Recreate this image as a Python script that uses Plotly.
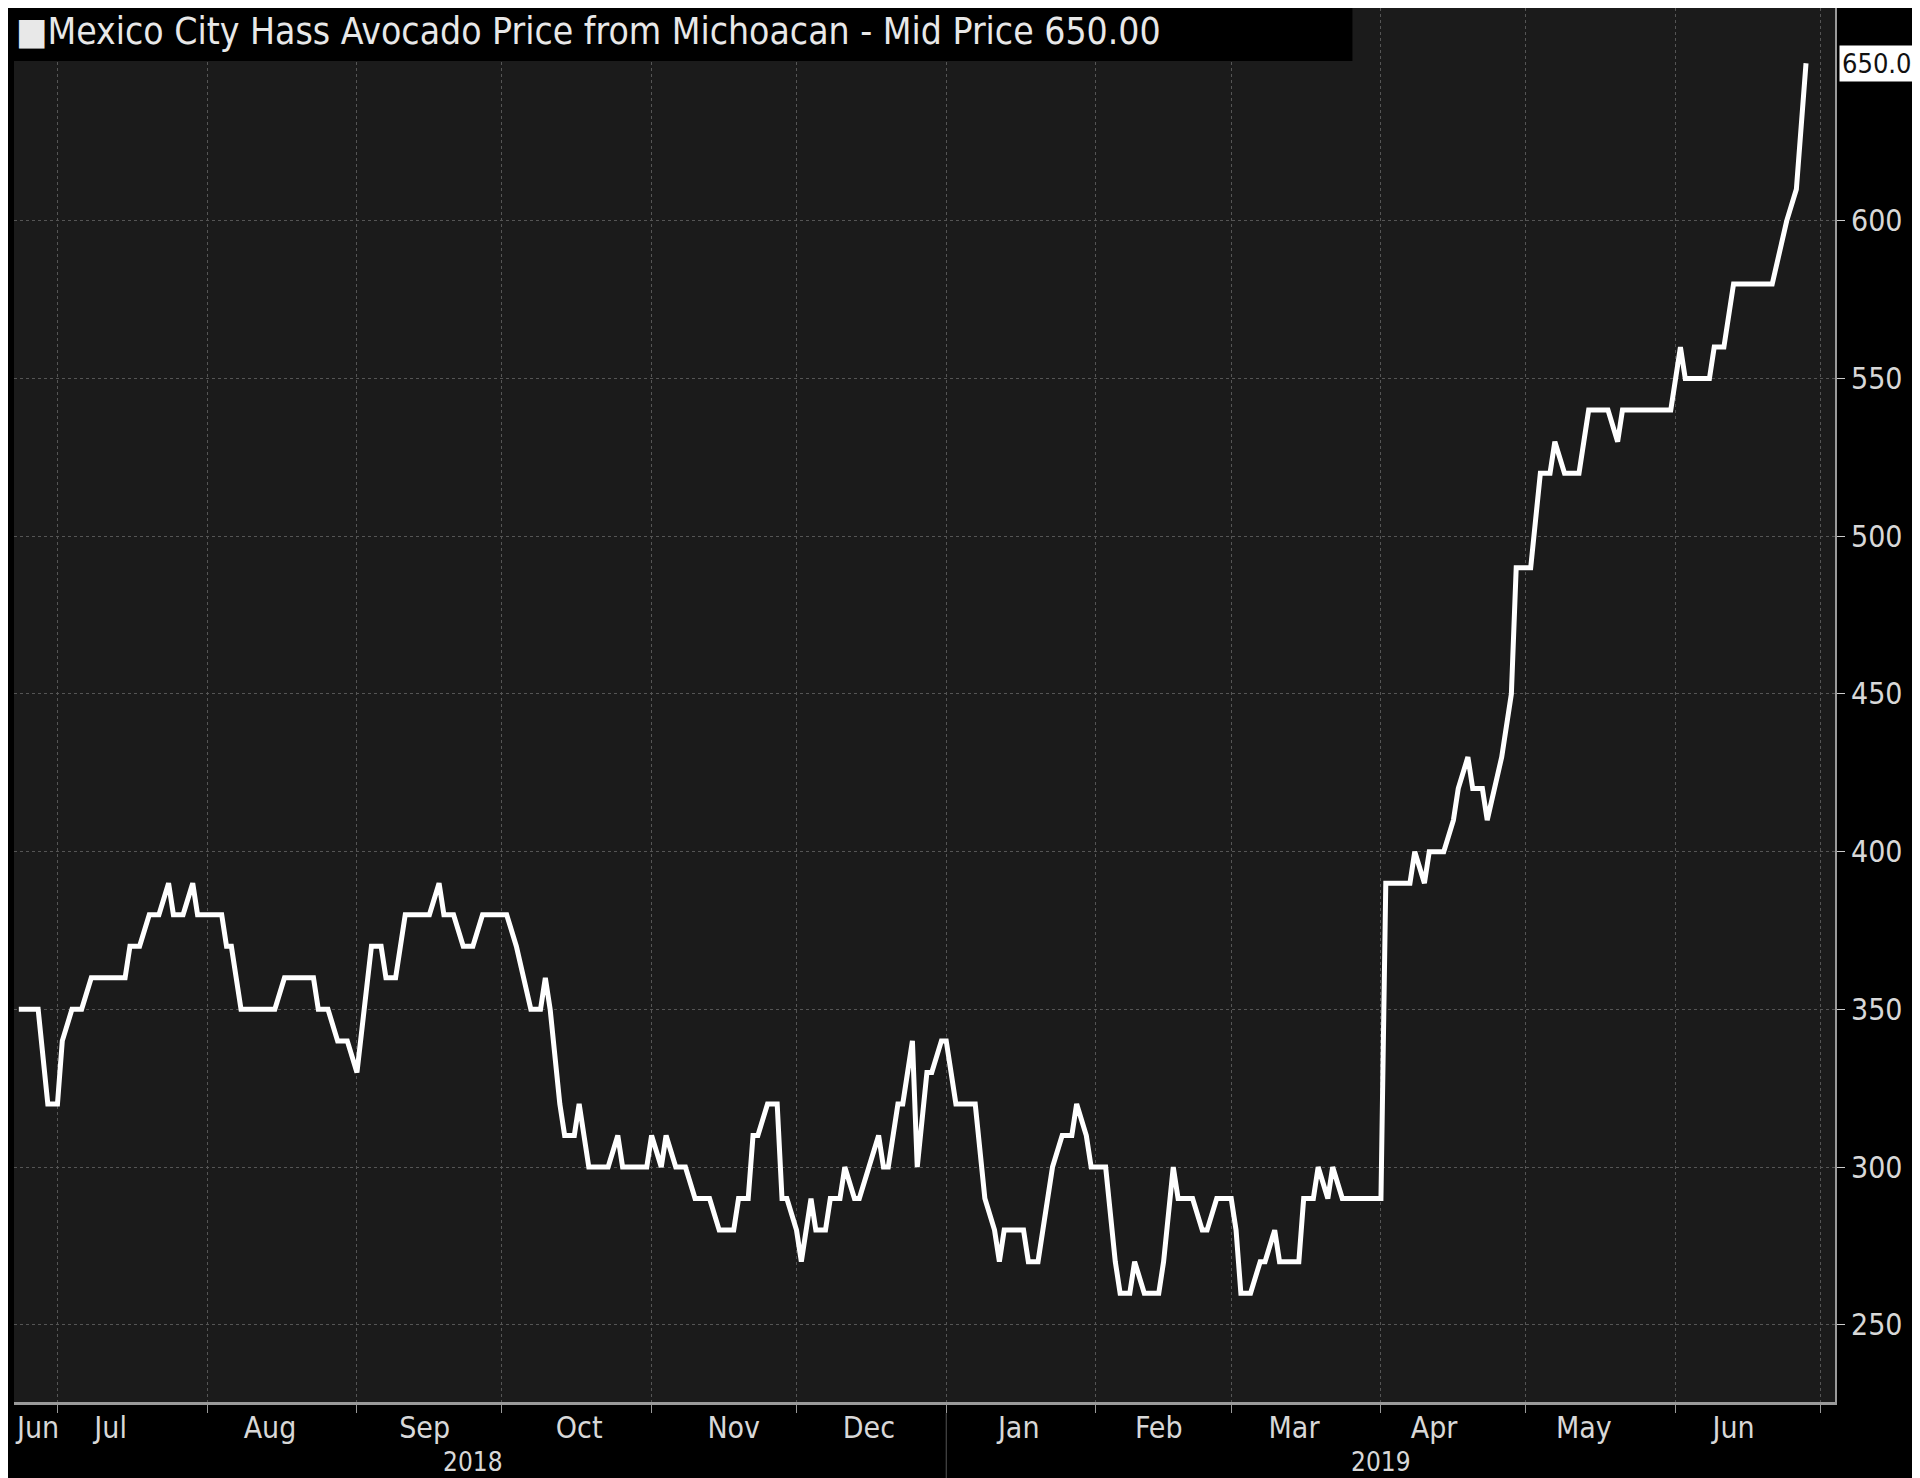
import plotly.graph_objects as go
import pandas as pd

start_date = "2018-06-23"
day_offsets = [0,4,6,8,9,11,13,15,22,23,25,27,29,31,32,34,36,37,42,43,44,46,53,55,61,62,64,66,68,70,73,75,76,78,80,85,87,88,90,92,94,96,101,103,106,108,109,110,112,113,115,116,118,122,124,125,130,131,133,134,136,138,140,143,145,148,149,151,152,153,155,157,158,159,161,162,164,165,167,168,170,171,173,174,176,178,179,180,182,183,185,186,188,189,191,192,194,198,200,202,203,204,208,209,211,213,214,216,218,219,221,222,225,227,228,230,231,233,236,237,239,240,243,245,246,248,251,252,253,255,257,258,260,261,265,266,268,269,271,272,274,282,283,288,289,291,292,295,297,298,300,301,303,304,307,309,310,313,315,317,318,320,323,325,329,331,332,342,344,345,350,351,353,355,363,366,368,370]
prices = [350,350,320,320,340,350,350,360,360,370,370,380,380,390,380,380,390,380,380,370,370,350,350,360,360,350,350,340,340,330,370,370,360,360,380,380,390,380,380,370,370,380,380,370,350,350,360,350,320,310,310,320,300,300,310,300,300,310,300,310,300,300,290,290,280,280,290,290,310,310,320,320,290,290,280,270,290,280,280,290,290,300,290,290,300,310,300,300,320,320,340,300,330,330,340,340,320,320,290,280,270,280,280,270,270,290,300,310,310,320,310,300,300,270,260,260,270,260,260,270,300,290,290,280,280,290,290,280,260,260,270,270,280,270,270,290,290,300,290,300,290,290,390,390,400,390,400,400,410,420,430,420,420,410,430,450,490,490,520,520,530,520,520,540,540,530,540,540,560,550,550,560,560,580,580,600,610,650]

month_labels = ["Jun","Jul","Aug","Sep","Oct","Nov","Dec","Jan","Feb","Mar","Apr","May","Jun"]
month_label_dates = ["2018-06-27","2018-07-12","2018-08-14","2018-09-15","2018-10-17","2018-11-18","2018-12-16","2019-01-16","2019-02-14","2019-03-14","2019-04-12","2019-05-13","2019-06-13"]
year_labels = ["2018","2019"]
year_label_dates = ["2018-09-25","2019-04-01"]
y_ticks = [250,300,350,400,450,500,550,600]

dates = pd.to_datetime(start_date) + pd.to_timedelta(day_offsets, unit="D")

fig = go.Figure(go.Scatter(x=dates, y=prices, mode="lines",
                           line=dict(color="white", width=5), hoverinfo="skip"))

fig.update_layout(
    width=1920, height=1478, showlegend=False,
    paper_bgcolor="#000000", plot_bgcolor="#1b1b1b",
    margin=dict(l=6, r=93, t=0, b=84),
    font=dict(family="DejaVu Sans Condensed, DejaVu Sans", color="#d8d8d8", size=30),
)
fig.update_xaxes(
    range=["2018-06-22", "2019-07-04"],
    tickvals=month_label_dates, ticktext=month_labels, ticks="", showgrid=False,
    showline=True, linecolor="#9a9a9a", linewidth=3, ticklabelstandoff=-3,
    minor=dict(dtick="M1", tick0="2018-07-01", showgrid=True, gridcolor="#555555", griddash="dot", gridwidth=1,
               ticks="outside", ticklen=8, tickcolor="#9a9a9a"),
    zeroline=False,
)
fig.update_yaxes(
    range=[225.5, 667.5], side="right", tickvals=y_ticks, ticks="outside", ticklen=8, tickcolor="#cccccc",
    showgrid=True, gridcolor="#555555", griddash="dot", gridwidth=1, zeroline=False,
    showline=True, linecolor="#9a9a9a", linewidth=2,
)
for lab, d in zip(year_labels, year_label_dates):
    fig.add_annotation(x=d, y=0, yshift=-60, xref="x", yref="paper", text=lab, showarrow=False,
                       yanchor="middle", font=dict(size=26, color="#d8d8d8"))
fig.add_shape(type="line", xref="x", yref="paper", x0="2019-01-01", x1="2019-01-01", y0=-0.008, y1=-0.07,
              line=dict(color="#555555", width=1))
fig.add_shape(type="rect", xref="paper", yref="paper", x0=-0.01, x1=0.735, y0=0.962, y1=1.0,
              fillcolor="#000000", line=dict(width=0), layer="above")
fig.add_annotation(xref="paper", yref="paper", x=0.0, y=1.0, xanchor="left", yanchor="top",
                   text="■Mexico City Hass Avocado Price from Michoacan - Mid Price 650.00",
                   showarrow=False, font=dict(size=37, color="#e8e8e8"))
fig.add_annotation(xref="paper", yref="y", x=1.0, y=prices[-1], xanchor="left", xshift=4,
                   text="650.0", showarrow=False, bgcolor="white",
                   font=dict(size=27, color="#111111"), borderpad=2)
fig.write_html("out.html")
